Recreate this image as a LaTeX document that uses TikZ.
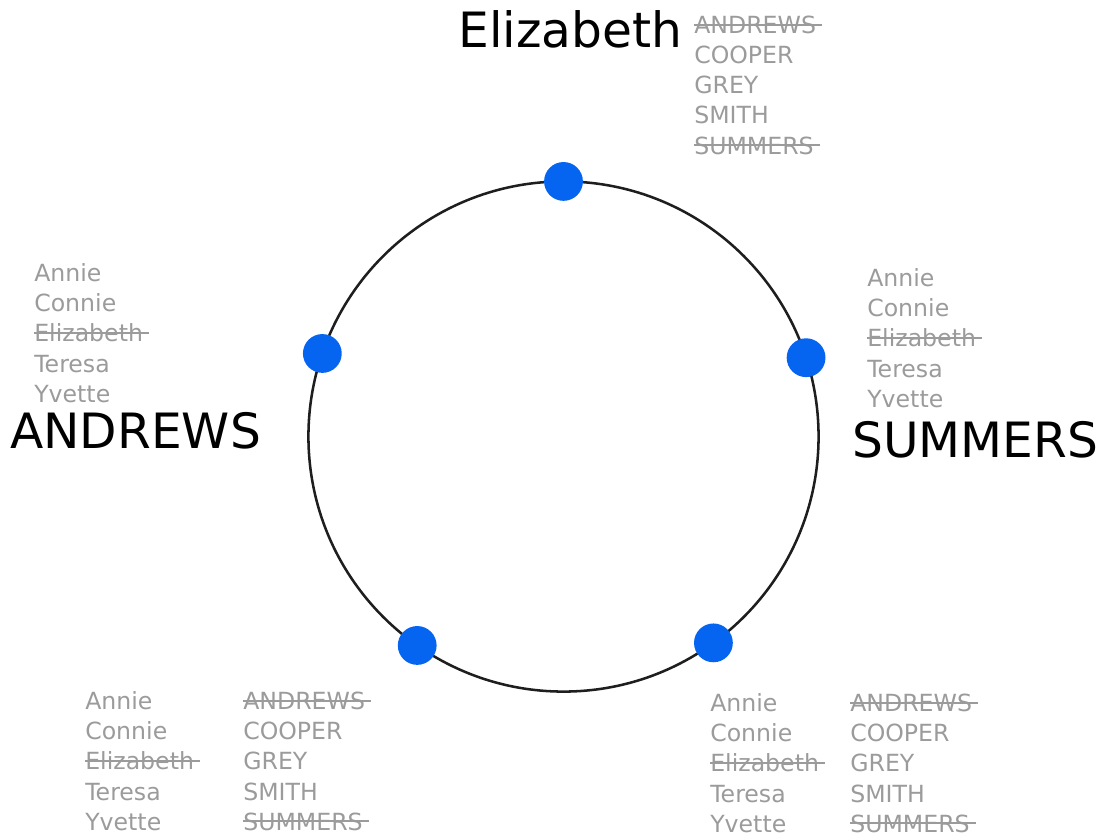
\documentclass[tikz,border=0pt]{standalone}
\usepackage{fontspec}
\setmainfont{DejaVu Sans}
\usepackage{xcolor}
\usepackage{tikz}
\usetikzlibrary{positioning, calc}
\definecolor{mygray}{RGB}{155,155,155}
\definecolor{myblue}{RGB}{5,100,240}
\definecolor{mydark}{RGB}{30,30,30}
\newcommand{\crossed}[1]{\setbox0\hbox{#1}\rlap{\rule[0.34em]{\dimexpr\wd0+0.25em\relax}{0.09em}}\box0}
\tikzset{
  biglabel/.style={anchor=base west, inner sep=0pt, text=black,
    font=\fontsize{34.6}{40}\selectfont},
  namelist/.style={anchor=base west, inner sep=0pt, text=mygray, align=left,
    font=\fontsize{16.8}{21.34}\selectfont},
  dot/.style={circle, fill=myblue, minimum size=0.97cm, inner sep=0pt}
}
\begin{document}
\begin{tikzpicture}[x=0.025cm, y=-0.025cm]
  \useasboundingbox (0,0) rectangle (1110,837);

  % Circle
  \node[circle, draw=mydark, line width=1.8pt, minimum size=12.75cm,
    inner sep=0pt, outer sep=0pt] (ring) at (563.5,436.5) {};

  % Seats
  \node[dot] (top) at (ring.90) {};
  \node[dot] (right) at (ring.18) {};
  \node[dot] (botright) at (ring.-54) {};
  \node[dot] (botleft) at (ring.-125) {};
  \node[dot] (left) at (ring.161.5) {};

  % Top (lists sit on the baseline of their last line)
  \node[biglabel] (elizabeth) at (458,47) {Elizabeth};
  \node[namelist] (toplist) at (694,154)
    {\crossed{ANDREWS}\\COOPER\\GREY\\SMITH\\\crossed{SUMMERS}};

  % Left
  \node[namelist] (leftlist) at (34,402)
    {Annie\\Connie\\\crossed{Elizabeth}\\Teresa\\Yvette};
  \node[biglabel] (andrews) at (10,448) {ANDREWS};

  % Right
  \node[namelist] (rightlist) at (867,407)
    {Annie\\Connie\\\crossed{Elizabeth}\\Teresa\\Yvette};
  \node[biglabel] (summers) at (852,457) {SUMMERS};

  % Bottom left
  \node[namelist] (blfirst) at (85,830)
    {Annie\\Connie\\\crossed{Elizabeth}\\Teresa\\Yvette};
  \node[namelist] (blsur) at (243,830)
    {\crossed{ANDREWS}\\COOPER\\GREY\\SMITH\\\crossed{SUMMERS}};

  % Bottom right
  \node[namelist] (brfirst) at (710,832)
    {Annie\\Connie\\\crossed{Elizabeth}\\Teresa\\Yvette};
  \node[namelist] (brsur) at (850,832)
    {\crossed{ANDREWS}\\COOPER\\GREY\\SMITH\\\crossed{SUMMERS}};
\end{tikzpicture}
\end{document}
